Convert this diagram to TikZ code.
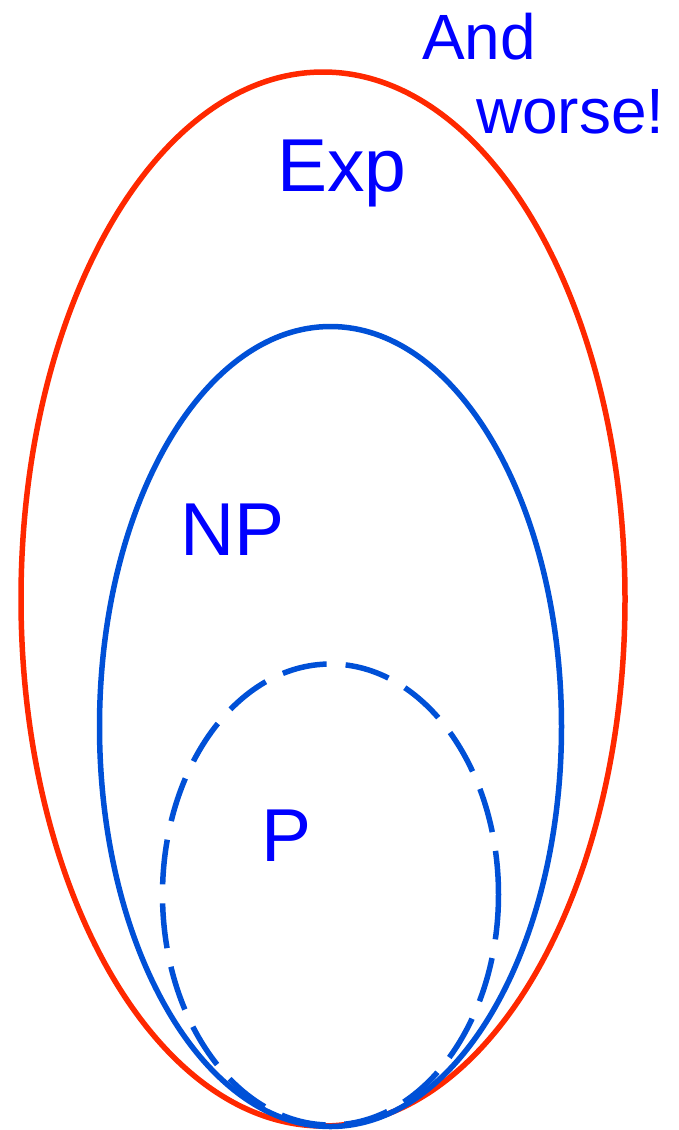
\documentclass[tikz,border=0pt]{standalone}
\usepackage{fontspec}
\setmainfont{Liberation Sans}
\definecolor{ringred}{RGB}{255,40,0}
\definecolor{ringblue}{RGB}{0,80,215}
\definecolor{labelblue}{RGB}{0,0,255}
\begin{document}
\begin{tikzpicture}[x=1pt,y=-1pt,
  ring/.style={line width=5.5pt},
  biglabel/.style={anchor=base west,inner sep=0pt,text=labelblue,font=\fontsize{75}{90}\selectfont},
  smalllabel/.style={anchor=base west,inner sep=0pt,text=labelblue,font=\fontsize{64}{77}\selectfont}]
\useasboundingbox (0,0) rectangle (679,1130);
\draw[ring,ringred] (323,599) ellipse [x radius=302, y radius=527];
\draw[ring,ringblue] (330.5,726.5) ellipse [x radius=231, y radius=400];
\draw[ring,ringblue,dash pattern=on 45pt off 19pt] (330.5,894.5) ellipse [x radius=168, y radius=230.5];
\node[smalllabel] (and) at (422,59) {And};
\node[smalllabel] (worse) at (476,133) {worse!};
\node[biglabel] (exp) at (277,191) {Exp};
\node[biglabel] (np) at (180,555) {NP};
\node[biglabel] (p) at (261,861) {P};
\end{tikzpicture}
\end{document}
